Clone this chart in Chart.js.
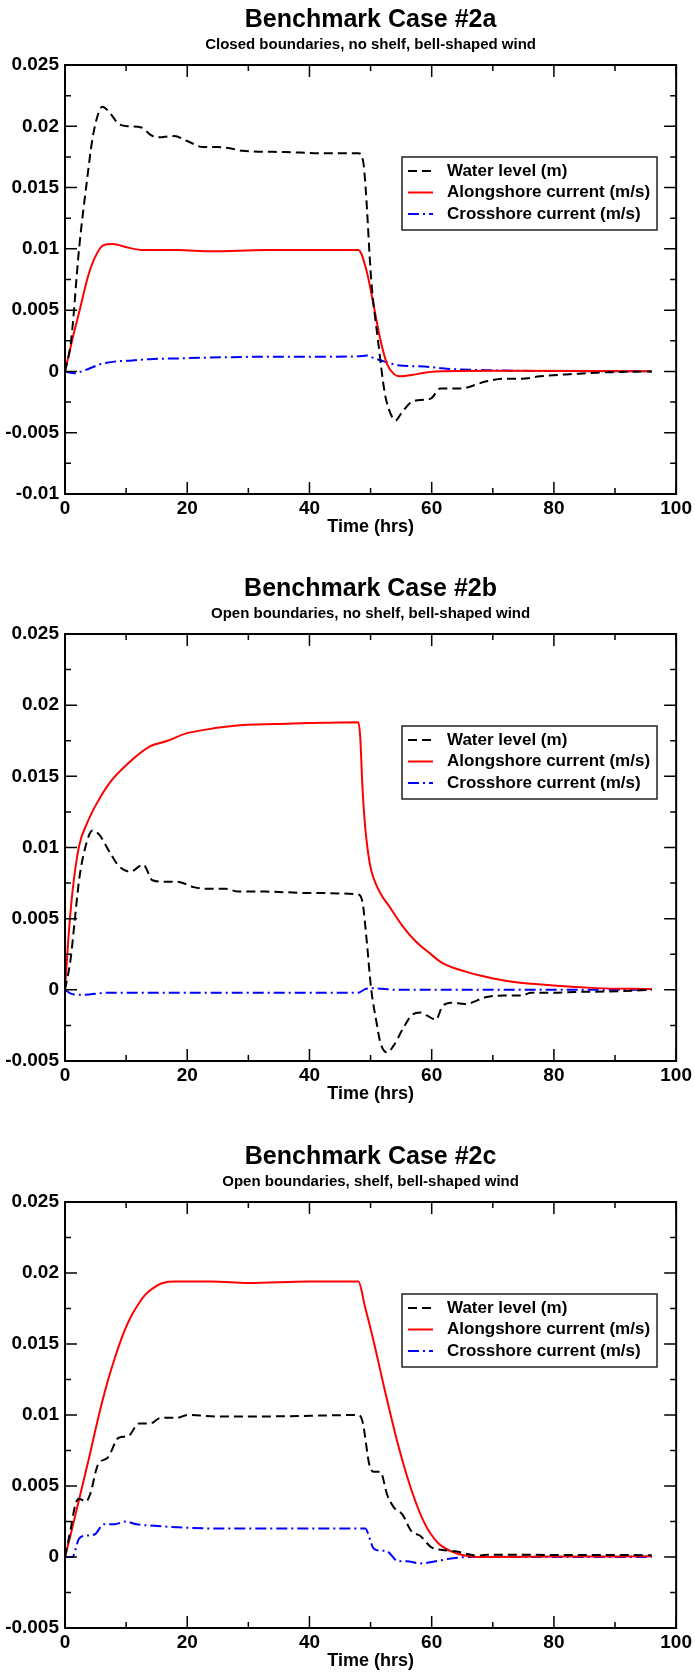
<!DOCTYPE html>
<html>
<head>
<meta charset="utf-8">
<title>Benchmark Case #2</title>
<script src="https://cdn.jsdelivr.net/npm/chart.js@4.4.1/dist/chart.umd.min.js"></script>
<style>
  html, body { margin: 0; padding: 0; background: #fff; }
  .panel { position: absolute; left: 0; width: 695px; }
</style>
</head>
<body>
<div class="panel" style="top:0px"><canvas id="chart-a" width="695" height="569"></canvas></div>
<div class="panel" style="top:569px"><canvas id="chart-b" width="695" height="568"></canvas></div>
<div class="panel" style="top:1137px"><canvas id="chart-c" width="695" height="535"></canvas></div>
<script>
// Tick labels
const xTickLabels = ['0', '20', '40', '60', '80', '100'];
const yTickLabelsA = ['-0.01', '-0.005', '0', '0.005', '0.01', '0.015', '0.02', '0.025'];
const yTickLabelsBC = ['-0.005', '0', '0.005', '0.01', '0.015', '0.02', '0.025'];

const seriesNames = ['Water level (m)', 'Alongshore current (m/s)', 'Crosshore current (m/s)'];

// Case 2a - closed boundaries, no shelf
const waterTimeA = [0, 1, 2.3, 3.6, 4.5, 5.3, 6.1, 7, 8.8, 10.5, 12.5, 14, 15, 17.9, 20, 22.6, 25, 27, 29, 36, 42, 48, 48.8, 49.2, 50.1, 51.2, 52.3, 53, 54.1, 54.9, 56.7, 58.8, 59.9, 61.4, 63.2, 64.6, 69, 71.9, 74.8, 77.7, 83.5, 87, 96];
const waterLevelA = [0, 0.0025, 0.0100, 0.0156, 0.0190, 0.0208, 0.0216, 0.0213, 0.0202, 0.0200, 0.0199, 0.0193, 0.0191, 0.0192, 0.0188, 0.0183, 0.0183, 0.0182, 0.0180, 0.0179, 0.0178, 0.0178, 0.0171, 0.0149, 0.0075, 0.0026, -0.0017, -0.0031, -0.0040, -0.0035, -0.0025, -0.0023, -0.0022, -0.0014, -0.0014, -0.0014, -0.0008, -0.0006, -0.0006, -0.0004, -0.0002, -0.0001, 0];
const alongTimeA = [0, 1.2, 2.3, 3.8, 4.9, 6.3, 7.8, 10.3, 12.8, 18.3, 24, 32.8, 48, 49.4, 50.5, 51.6, 52.7, 53.8, 54.9, 56.7, 58.8, 60.7, 70.4, 96];
const alongCurrentA = [0, 0.0026, 0.0048, 0.0078, 0.0093, 0.0103, 0.0104, 0.0101, 0.0099, 0.0099, 0.0098, 0.0099, 0.0099, 0.0081, 0.0054, 0.0026, 0.0006, -0.0002, -0.0004, -0.0003, -0.0001, 0, 0.00005, 0.00002];
const crossTimeA = [0, 1.6, 3, 5.9, 8.1, 11, 13.9, 18.3, 25.5, 32.8, 40, 48, 49.4, 50.5, 52.3, 54.5, 58.8, 61, 63.2, 69, 96];
const crossCurrentA = [0, -0.00015, 0.00005, 0.0006, 0.0008, 0.0009, 0.0010, 0.00106, 0.00115, 0.0012, 0.0012, 0.00123, 0.0013, 0.0011, 0.0008, 0.0005, 0.0004, 0.0003, 0.0002, 0.0001, 0];

// Case 2b - open boundaries, no shelf
const waterTimeB = [0, 0.9, 1.6, 2.3, 3.2, 4.5, 5.6, 7.4, 8.8, 10.7, 12.8, 14.3, 16.1, 18.3, 21.2, 23.3, 26.2, 28.4, 32.8, 40, 48, 48.7, 49.4, 50.1, 50.9, 51.6, 52.7, 53.8, 55.2, 56.7, 58.1, 59.2, 60.7, 61.7, 63.2, 65.4, 69, 71.9, 74.8, 76.2, 79.9, 83.5, 90.7, 96];
const waterLevelB = [0, 0.0021, 0.0049, 0.0077, 0.0098, 0.0112, 0.0109, 0.0096, 0.0087, 0.0083, 0.0088, 0.0077, 0.0076, 0.0076, 0.0072, 0.0071, 0.0071, 0.0069, 0.0069, 0.0068, 0.0067, 0.0061, 0.0033, 0.00005, -0.0021, -0.0037, -0.0044, -0.0039, -0.0028, -0.0018, -0.0016, -0.0018, -0.0021, -0.0012, -0.0009, -0.0010, -0.0005, -0.0004, -0.0004, -0.0002, -0.0002, -0.00015, -0.0001, 0];
const alongTimeB = [0, 0.5, 1.2, 2.3, 3.6, 5.2, 7.4, 10.3, 13.9, 16.8, 19.7, 23.3, 29.1, 36.4, 48, 48.3, 48.7, 49.1, 49.6, 50.1, 51, 52, 53, 55.2, 57.4, 59.6, 61.7, 65.4, 69, 72.6, 79.9, 87, 96];
const alongCurrentB = [0, 0.0033, 0.0068, 0.0101, 0.0117, 0.0131, 0.0146, 0.0159, 0.0171, 0.0175, 0.0180, 0.0183, 0.0186, 0.0187, 0.0188, 0.0178, 0.0140, 0.0115, 0.0096, 0.0084, 0.0073, 0.0065, 0.0059, 0.0045, 0.0034, 0.0026, 0.0019, 0.0013, 0.0009, 0.0006, 0.0003, 0.00012, 0.00005];
const crossTimeB = [0, 1.2, 2.7, 7.4, 14.6, 25.5, 48, 49.1, 50.1, 54.5, 61.7, 96];
const crossCurrentB = [0, -0.0003, -0.00035, -0.0002, -0.0002, -0.0002, -0.0002, 0.00005, 0.00012, 0, 0, 0];

// Case 2c - open boundaries, shelf
const waterTimeC = [0, 0.9, 1.7, 2.3, 3.4, 4.1, 5.4, 7, 8.8, 10.3, 12.1, 13.9, 15.7, 18.3, 20.1, 24.8, 32.8, 48, 48.7, 49.8, 50.5, 51.6, 52.7, 53.8, 55.2, 56.7, 58.1, 59.9, 61.7, 63.9, 67.5, 69, 76.2, 96];
const waterLevelC = [0, 0.0019, 0.0037, 0.0041, 0.0039, 0.0044, 0.0065, 0.0070, 0.0084, 0.0085, 0.0094, 0.0094, 0.0098, 0.0098, 0.0100, 0.0099, 0.0099, 0.0100, 0.0095, 0.0065, 0.0060, 0.0060, 0.0044, 0.0035, 0.0030, 0.0018, 0.0015, 0.0007, 0.0005, 0.0004, 0.0001, 0.00015, 0.00015, 0.00013];
const alongTimeC = [0, 1, 2, 3, 4, 5, 6, 7, 8, 9, 10, 11, 12, 13, 14, 15, 16, 18, 20, 24, 30, 40, 48, 49.1, 50.5, 52.3, 54.5, 56.7, 58.8, 61, 63.2, 65.4, 67.5, 80, 96];
const alongCurrentC = [0, 0.0017, 0.0035, 0.0053, 0.0071, 0.0090, 0.0108, 0.0124, 0.0138, 0.0151, 0.0162, 0.0171, 0.0178, 0.0184, 0.0188, 0.0191, 0.0193, 0.0194, 0.0194, 0.0194, 0.0193, 0.0194, 0.0194, 0.0176, 0.0152, 0.0118, 0.0079, 0.0047, 0.0024, 0.0010, 0.0004, 0.0001, 0, 0.00003, 0.00005];
const crossTimeC = [0, 1.2, 2.3, 3.4, 4.9, 6.3, 8.1, 9.9, 11.7, 14.6, 18.3, 25.5, 48, 49.1, 50.5, 51.6, 52.7, 54.5, 55.9, 58.1, 60.7, 63.2, 66.1, 96];
const crossCurrentC = [0, 0, 0.0013, 0.0015, 0.0016, 0.0023, 0.0023, 0.0025, 0.0023, 0.0022, 0.0021, 0.0020, 0.0020, 0.0020, 0.0006, 0.00045, 0.0004, -0.0003, -0.0003, -0.00045, -0.0003, -0.0001, 0, 0];

Chart.defaults.font.family = '"Liberation Sans", Arial, Helvetica, sans-serif';
Chart.defaults.font.weight = 'bold';
Chart.defaults.color = '#000';

function toPoints(times, values) {
  return times.map((t, i) => ({ x: t, y: values[i] }));
}

/**
 * Inward tick marks on all four sides, the plot frame and the boxed legend
 */
const framePlugin = {
  id: 'frame',
  afterDatasetsDraw(chart) {
    const { ctx, chartArea: a, scales: { x, y } } = chart;
    ctx.save();
    ctx.strokeStyle = '#000';
    ctx.lineWidth = 1.5;

    const drawTicks = (scale, horizontal) => {
      const majors = scale.ticks.map(t => t.value);
      const minors = [];
      for (let i = 0; i < majors.length - 1; i++) minors.push((majors[i] + majors[i + 1]) / 2);
      const mark = (v, len) => {
        const p = scale.getPixelForValue(v);
        ctx.beginPath();
        if (horizontal) {
          ctx.moveTo(p, a.bottom); ctx.lineTo(p, a.bottom - len);
          ctx.moveTo(p, a.top); ctx.lineTo(p, a.top + len);
        } else {
          ctx.moveTo(a.left, p); ctx.lineTo(a.left + len, p);
          ctx.moveTo(a.right, p); ctx.lineTo(a.right - len, p);
        }
        ctx.stroke();
      };
      majors.forEach(v => mark(v, 12));
      minors.forEach(v => mark(v, 6));
    };
    drawTicks(x, true);
    drawTicks(y, false);

    ctx.lineWidth = 2;
    ctx.strokeRect(a.left, a.top, a.width, a.height);

    // legend box
    const boxLeft = 402, boxRight = 657;
    const boxTop = a.top + 92, boxHeight = 73;
    ctx.fillStyle = '#fff';
    ctx.fillRect(boxLeft, boxTop, boxRight - boxLeft, boxHeight);
    ctx.strokeStyle = '#222';
    ctx.lineWidth = 1.5;
    ctx.strokeRect(boxLeft, boxTop, boxRight - boxLeft, boxHeight);

    ctx.font = 'bold 17px "Liberation Sans", Arial, sans-serif';
    ctx.textBaseline = 'middle';
    ctx.textAlign = 'left';
    chart.data.datasets.forEach((ds, i) => {
      const rowY = boxTop + 14 + i * 21.5;
      ctx.strokeStyle = ds.borderColor;
      ctx.lineWidth = 2;
      ctx.setLineDash(ds.borderDash || []);
      ctx.beginPath();
      ctx.moveTo(408, rowY);
      ctx.lineTo(433, rowY);
      ctx.stroke();
      ctx.setLineDash([]);
      ctx.fillStyle = '#000';
      ctx.fillText(ds.label, 447, rowY);
    });
    ctx.restore();
  }
};

function makeChart(canvasId, opts) {
  const canvas = document.getElementById(canvasId);
  return new Chart(canvas, {
    type: 'line',
    data: {
      datasets: [
        {
          label: seriesNames[0],
          data: toPoints(opts.waterTime, opts.water),
          borderColor: '#000',
          borderDash: [9, 5],
          borderWidth: 2
        },
        {
          label: seriesNames[1],
          data: toPoints(opts.alongTime, opts.along),
          borderColor: '#ff0000',
          borderWidth: 2
        },
        {
          label: seriesNames[2],
          data: toPoints(opts.crossTime, opts.cross),
          borderColor: '#0000ff',
          borderDash: [11, 4, 2, 4],
          borderWidth: 2
        }
      ]
    },
    options: {
      responsive: false,
      animation: false,
      devicePixelRatio: 1,
      cubicInterpolationMode: 'monotone',
      elements: { point: { radius: 0 } },
      layout: { padding: { left: 0, right: 18, top: 0, bottom: opts.padBottom } },
      plugins: {
        legend: { display: false },
        tooltip: { enabled: false },
        title: {
          display: true,
          fullSize: false,
          text: opts.title,
          font: { size: 25, weight: 'bold' },
          padding: { top: 5, bottom: 0.5 }
        },
        subtitle: {
          display: true,
          fullSize: false,
          text: opts.subtitle,
          color: '#000',
          font: { size: 15, weight: 'bold' },
          padding: { top: 0, bottom: 11.5 }
        }
      },
      scales: {
        x: {
          type: 'linear',
          min: 0,
          max: 100,
          grid: { display: false, drawTicks: false },
          border: { display: false },
          ticks: {
            stepSize: 20,
            padding: 3,
            font: { size: 19, weight: 'bold' },
            callback: (v, i) => xTickLabels[i]
          },
          title: {
            display: true,
            text: 'Time (hrs)',
            font: { size: 18, weight: 'bold' },
            padding: { top: 0, bottom: 0 }
          },
          afterFit: (s) => { s.height = 44; }
        },
        y: {
          min: opts.yMin,
          max: 0.025,
          grid: { display: false, drawTicks: false },
          border: { display: false },
          ticks: {
            stepSize: 0.005,
            padding: 6,
            font: { size: 19, weight: 'bold' },
            callback: (v, i) => opts.yLabels[i]
          },
          afterFit: (s) => { s.width = 65; }
        }
      }
    },
    plugins: [framePlugin]
  });
}

makeChart('chart-a', {
  title: 'Benchmark Case #2a',
  subtitle: 'Closed boundaries, no shelf, bell-shaped wind',
  yMin: -0.01, yLabels: yTickLabelsA, padBottom: 31,
  waterTime: waterTimeA, water: waterLevelA,
  alongTime: alongTimeA, along: alongCurrentA,
  crossTime: crossTimeA, cross: crossCurrentA
});

makeChart('chart-b', {
  title: 'Benchmark Case #2b',
  subtitle: 'Open boundaries, no shelf, bell-shaped wind',
  yMin: -0.005, yLabels: yTickLabelsBC, padBottom: 32,
  waterTime: waterTimeB, water: waterLevelB,
  alongTime: alongTimeB, along: alongCurrentB,
  crossTime: crossTimeB, cross: crossCurrentB
});

makeChart('chart-c', {
  title: 'Benchmark Case #2c',
  subtitle: 'Open boundaries, shelf, bell-shaped wind',
  yMin: -0.005, yLabels: yTickLabelsBC, padBottom: 0,
  waterTime: waterTimeC, water: waterLevelC,
  alongTime: alongTimeC, along: alongCurrentC,
  crossTime: crossTimeC, cross: crossCurrentC
});
</script>
</body>
</html>
